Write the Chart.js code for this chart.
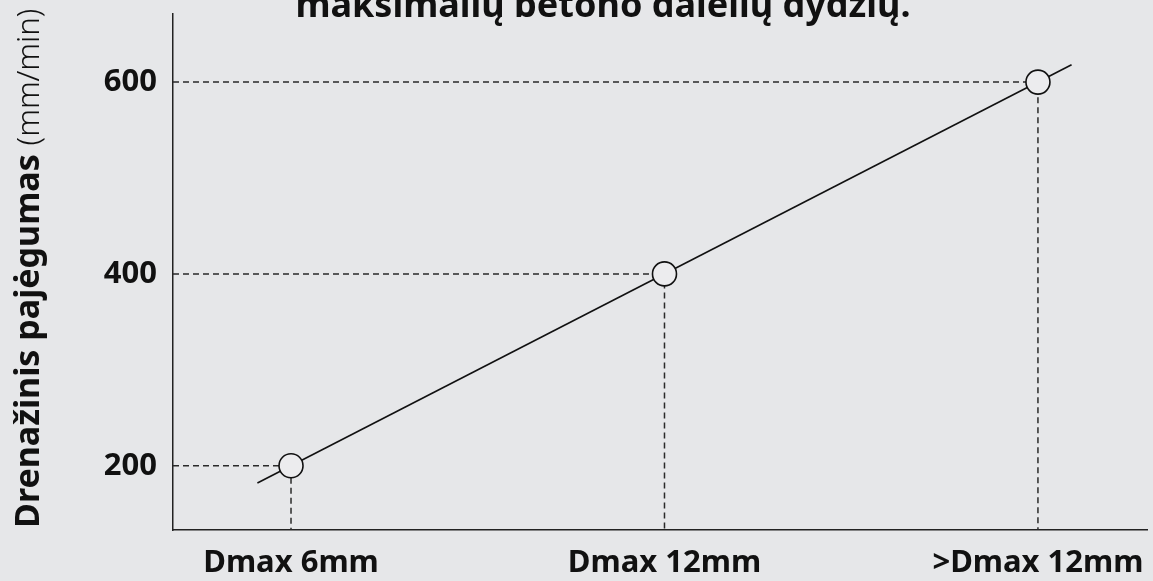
<!DOCTYPE html>
<html>
<head>
<meta charset="utf-8">
<script src="https://cdn.jsdelivr.net/npm/chart.js@4.4.1/dist/chart.umd.min.js"></script>
<style>
  html, body { margin: 0; padding: 0; background: #e6e7e9; }
  #wrap { width: 1153px; height: 581px; }
</style>
</head>
<body>
<div id="wrap"><canvas id="g_linija"></canvas></div>
<script>
// duomenys
const categories = ['Dmax 6mm', 'Dmax 12mm', '>Dmax 12mm'];
const drainValues = [200, 400, 600];
const yTicks = [200, 400, 600];
// tendencijos linija (išeina šiek tiek už taškų)
const trendX = [-0.09, 2.09];
const trendY = [182, 618];

const xMin = -0.316, xMax = 2.292;
const yMin = 133, yMax = 671;

const font = "'Noto Sans', sans-serif";
const ink = '#111';

const points = drainValues.map((v, i) => ({ x: i, y: v }));
const trend = trendX.map((x, i) => ({ x: x, y: trendY[i] }));

// punktyrinės linijos nuo taško iki ašių
const guides = drainValues.map((v, i) => ({
    type: 'line',
    data: [{ x: xMin, y: v }, { x: i, y: v }, { x: i, y: yMin }],
    borderColor: '#2a2a2a',
    borderWidth: 1.5,
    borderDash: [6, 4],
    pointRadius: 0,
    fill: false,
    order: 3
}));

// antraštės ir y ašies pavadinimo piešimas
const texts = {
    id: 'texts',
    afterDraw(chart) {
        const c = chart.ctx;
        c.save();
        c.fillStyle = ink;
        c.font = "bold 36px " + font;
        c.textAlign = 'center';
        c.textBaseline = 'alphabetic';
        c.fillText('maksimalių betono dalelių dydžių.', 603, 17);

        c.translate(39, 528);
        c.rotate(-Math.PI / 2);
        c.textAlign = 'left';
        c.font = "bold 34px " + font;
        const bold = 'Drenažinis pajėgumas ';
        c.fillText(bold, 0, 0);
        const w = c.measureText(bold).width;
        c.font = "300 31px " + font;
        c.fillText('(mm/min)', w, 0);
        c.restore();
    }
};

const ctx = document.getElementById('g_linija').getContext('2d');
const g_linija = new Chart(ctx, {
    type: 'line',
    data: {
        datasets: [
            ...guides,
            {
                data: trend,
                borderColor: ink,
                borderWidth: 1.6,
                pointRadius: 0,
                fill: false,
                order: 2
            },
            {
                data: points,
                showLine: false,
                pointRadius: 12,
                pointBackgroundColor: '#ececee',
                pointBorderColor: ink,
                pointBorderWidth: 1.6,
                order: 1
            }
        ]
    },
    options: {
        responsive: true,
        maintainAspectRatio: false,
        animation: false,
        layout: { autoPadding: false, padding: { top: 14, right: 6, left: 0, bottom: 0 } },
        plugins: {
            legend: { display: false },
            tooltip: { enabled: false }
        },
        scales: {
            x: {
                type: 'linear',
                min: xMin,
                max: xMax,
                afterBuildTicks(scale) {
                    scale.ticks = categories.map((c, i) => ({ value: i }));
                },
                afterFit(scale) {
                    scale.height = 51;
                    scale.paddingLeft = 0;
                    scale.paddingRight = 0;
                },
                grid: { display: false, drawTicks: false },
                border: { display: true, color: '#222', width: 1.5 },
                ticks: {
                    padding: 15,
                    color: ink,
                    font: { family: font, size: 31, weight: 'bold' },
                    maxRotation: 0,
                    autoSkip: false,
                    callback: (v) => categories[v]
                }
            },
            y: {
                type: 'linear',
                min: yMin,
                max: yMax,
                afterBuildTicks(scale) {
                    scale.ticks = yTicks.map(v => ({ value: v }));
                },
                afterFit(scale) {
                    scale.width = 173;
                    scale.paddingTop = 0;
                    scale.paddingBottom = 0;
                },
                grid: { display: false, drawTicks: false },
                border: { display: true, color: '#222', width: 1.5 },
                ticks: {
                    padding: 16,
                    color: ink,
                    font: { family: font, size: 31, weight: 'bold' }
                }
            }
        }
    },
    plugins: [texts]
});
</script>
</body>
</html>
